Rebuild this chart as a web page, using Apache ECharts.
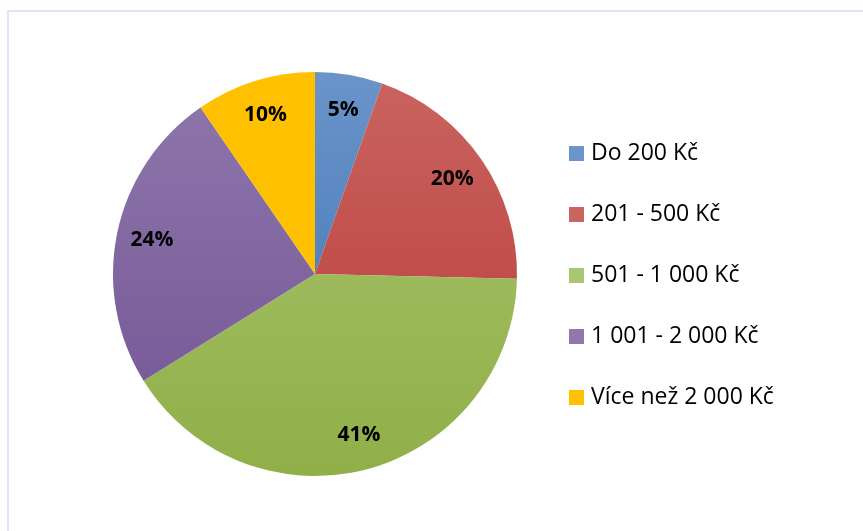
<!DOCTYPE html>
<html>
<head>
<meta charset="utf-8">
<script src="https://cdn.jsdelivr.net/npm/echarts@6/dist/echarts.min.js"></script>
<style>
html, body { margin: 0; padding: 0; background: #fff; }
#frame {
    position: absolute; left: 7px; top: 10px; width: 900px; height: 560px;
    border-top: 2px solid #DCE6F4; border-left: 2px solid #DCE6F4;
}
#chart { position: absolute; left: 0; top: 0; width: 863px; height: 531px; }
</style>
</head>
<body>
<div id="frame"></div>
<div id="chart"></div>
<script>
// kategorie a podíly (%)
const categories = ['Do 200 Kč', '201 - 500 Kč', '501 - 1 000 Kč', '1 001 - 2 000 Kč', 'Více než 2 000 Kč']
const shares = [5.4, 20.0, 40.8, 24.3, 9.6]
// barvy: horní a dolní odstín přechodu
const colorsTop = ['#6A94CA', '#CA6460', '#A9C670', '#8F78AC', '#FFC000']
const colorsBottom = ['#3B70B1', '#B73835', '#90AF48', '#725394', '#FFC000']

const center = [315, 274]
const radius = 202

function grad(i) {
    return new echarts.graphic.LinearGradient(0, center[1] - radius, 0, center[1] + radius, [
        { offset: 0, color: colorsTop[i] },
        { offset: 1, color: colorsBottom[i] }
    ], true)
}

const myChart = echarts.init(document.getElementById('chart'))
const option = {
    animation: false,
    legend: {
        orient: 'vertical',
        left: 569,
        top: 142,
        padding: 0,
        itemWidth: 15,
        itemHeight: 15,
        itemGap: 38,
        icon: 'rect',
        data: categories,
        textStyle: {
            fontFamily: 'Open Sans',
            fontSize: 23,
            color: '#000',
            padding: [0, 0, 0, 2]
        }
    },
    series: [
        {
            type: 'pie',
            center: center,
            radius: radius,
            startAngle: 90,
            clockwise: true,
            silent: true,
            label: { show: false },
            labelLine: { show: false },
            data: categories.map((name, i) => ({
                name: name,
                value: shares[i],
                itemStyle: { color: grad(i), borderWidth: 0 }
            }))
        },
        {
            // jen popisky procent blíže k okraji
            type: 'pie',
            center: center,
            radius: [radius * 0.62, radius],
            startAngle: 90,
            clockwise: true,
            silent: true,
            itemStyle: { color: 'transparent' },
            labelLine: { show: false },
            label: {
                show: true,
                position: 'inside',
                fontFamily: 'Open Sans',
                fontWeight: 'bold',
                fontSize: 21,
                color: '#000',
                formatter: (p) => Math.round(p.percent) + '%'
            },
            data: categories.map((name, i) => ({ name: name, value: shares[i] }))
        }
    ]
}
myChart.setOption(option)
</script>
</body>
</html>
